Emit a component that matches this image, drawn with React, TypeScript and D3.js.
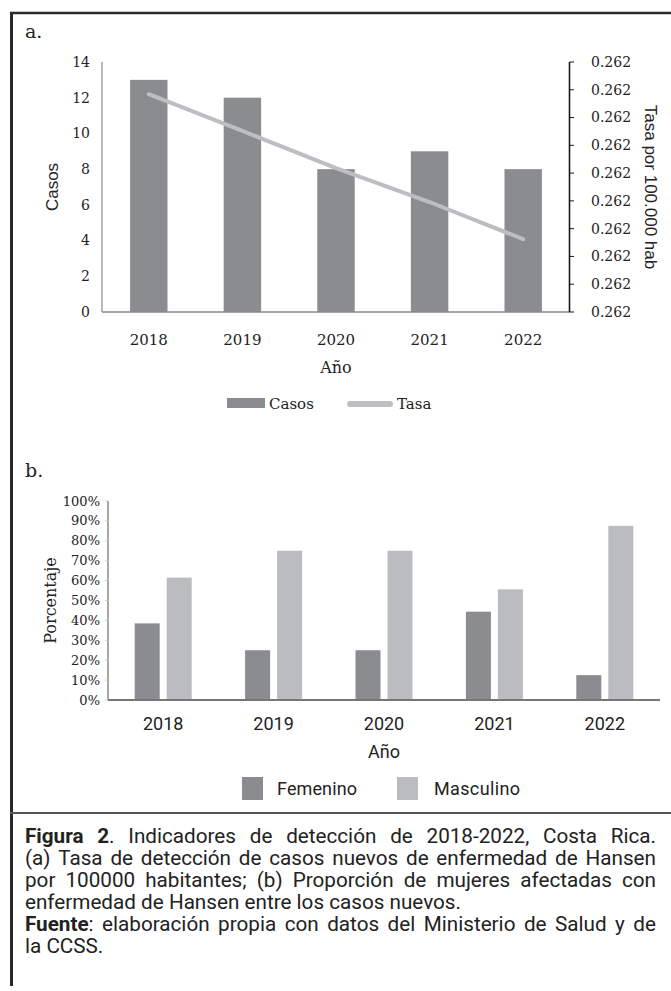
import React, { useLayoutEffect, useRef, useState } from "react";
import * as d3 from "d3";

const years = ["2018", "2019", "2020", "2021", "2022"];
const casos = [13, 12, 8, 9, 8];
const tasa = [0.262392, 0.262326, 0.262259, 0.262198, 0.262131];
const casosTicks = [0, 2, 4, 6, 8, 10, 12, 14];
const tasaTicks = [0.262, 0.26205, 0.2621, 0.26215, 0.2622, 0.26225, 0.2623, 0.26235, 0.2624, 0.26245];
const sexes = ["Femenino", "Masculino"];
const femenino = [38.5, 25, 25, 44.4, 12.5];
const masculino = [61.5, 75, 75, 55.6, 87.5];
const pctTicks = [0, 10, 20, 30, 40, 50, 60, 70, 80, 90, 100];

type Seg = { t: string; b?: boolean };
const captionLines: { words: Seg[][]; justify: boolean }[] = [
  {
    justify: true,
    words: [
      [{ t: "Figura", b: true }],
      [{ t: "2", b: true }, { t: "." }],
      ...["Indicadores", "de", "detección", "de", "2018-2022,", "Costa", "Rica."].map((w) => [{ t: w }]),
    ],
  },
  {
    justify: true,
    words: "(a) Tasa de detección de casos nuevos de enfermedad de Hansen".split(" ").map((w) => [{ t: w }]),
  },
  {
    justify: true,
    words: "por 100000 habitantes; (b) Proporción de mujeres afectadas con".split(" ").map((w) => [{ t: w }]),
  },
  {
    justify: false,
    words: "enfermedad de Hansen entre los casos nuevos.".split(" ").map((w) => [{ t: w }]),
  },
  {
    justify: true,
    words: [
      [{ t: "Fuente", b: true }, { t: ":" }],
      ..."elaboración propia con datos del Ministerio de Salud y de".split(" ").map((w) => [{ t: w }]),
    ],
  },
  { justify: false, words: "la CCSS.".split(" ").map((w) => [{ t: w }]) },
];

const SERIF = "'DejaVu Serif', serif";
const SANS = "'Liberation Sans', Arial, sans-serif";
const COND = "Roboto, sans-serif";
const DARK = "#8b8c8f";
const LIGHT = "#bbbcc0";
const TEXT = "#222";
const CAP_FS = 20;

export default function App() {
  const W = 671;
  const H = 991;

  // top chart scales
  const xA = d3.scaleBand<string>().domain(years).range([102, 570]);
  const yC = d3.scaleLinear().domain([0, 14]).range([312, 62]);
  const yT = d3.scaleLinear().domain([0.262, 0.26245]).range([312, 62]);
  const bwA = xA.bandwidth();
  const linePath = d3
    .line<number>()
    .x((_, i) => (xA(years[i]) as number) + bwA / 2)
    .y((d) => yT(d))(tasa) as string;

  // bottom chart scales
  const xB = d3.scaleBand<string>().domain(years).range([108, 660]);
  const xS = d3.scaleBand<string>().domain(sexes).range([-28.5, 28.5]).paddingInner(0.21875);
  const yP = d3.scaleLinear().domain([0, 100]).range([700, 501]);

  // caption measurement
  const wordRefs = useRef<Record<string, SVGTextElement | null>>({});
  const spRef = useRef<SVGTextElement | null>(null);
  const nnRef = useRef<SVGTextElement | null>(null);
  const [meas, setMeas] = useState<{ ws: number[][]; space: number } | null>(null);

  useLayoutEffect(() => {
    const ws = captionLines.map((ln, li) =>
      ln.words.map((_, wi) => wordRefs.current[`${li}-${wi}`]!.getComputedTextLength())
    );
    const space = spRef.current!.getComputedTextLength() - nnRef.current!.getComputedTextLength();
    setMeas({ ws, space });
  }, []);

  let caption: { sx: number; lines: { w: Seg[]; x: number }[][] } | null = null;
  if (meas) {
    const { ws, space } = meas;
    const refW = ws[3].reduce((a, b) => a + b, 0) + space * (ws[3].length - 1);
    const sx = 436 / refW;
    const full = 631 / sx;
    const lines = captionLines.map((ln, li) => {
      const sum = ws[li].reduce((a, b) => a + b, 0);
      const gap = ln.justify ? (full - sum) / (ln.words.length - 1) : space;
      let x = 0;
      return ln.words.map((w, i) => {
        const pos = x;
        x += ws[li][i] + gap;
        return { w, x: pos };
      });
    });
    caption = { sx, lines };
  }

  const capY = [843, 865, 887, 909, 931, 953];

  const renderWord = (w: Seg[]) =>
    w.map((s, si) => (
      <tspan key={si} fontWeight={s.b ? "bold" : "normal"}>
        {s.t}
      </tspan>
    ));

  return (
    <svg
      width={W}
      height={H}
      style={{ position: "absolute", left: 0, top: 0, background: "#fff" }}
      fontFamily={SERIF}
    >
      <rect x={0} y={0} width={W} height={H} fill="#fff" />
      {/* frame */}
      <line x1={10} x2={671} y1={13} y2={13} stroke="#2a2a2a" strokeWidth={2.5} />
      <line x1={11.5} x2={11.5} y1={12} y2={986} stroke="#2a2a2a" strokeWidth={3} />
      <line x1={10} x2={671} y1={813} y2={813} stroke="#555" strokeWidth={2} />

      {/* ---------- chart a ---------- */}
      <text x={25} y={38} fontSize={19} fill={TEXT}>a.</text>
      {years.map((y, i) => (
        <rect
          key={y}
          x={(xA(y) as number) + bwA * 0.3}
          y={yC(casos[i])}
          width={bwA * 0.4}
          height={yC(0) - yC(casos[i])}
          fill={DARK}
        />
      ))}
      <path d={linePath} fill="none" stroke="#bdbec1" strokeWidth={4} strokeLinecap="round" />
      {/* left axis */}
      <line x1={102} x2={102} y1={yC(14)} y2={yC(0)} stroke="#8a8a8a" strokeWidth={1.2} />
      {casosTicks.map((t) => (
        <text key={t} x={90} y={yC(t)} dy="0.35em" textAnchor="end" fontSize={14} fill={TEXT}>
          {t}
        </text>
      ))}
      <text
        transform={`translate(52,${(yC(0) + yC(14)) / 2}) rotate(-90)`}
        textAnchor="middle"
        dy="0.35em"
        fontSize={17}
        fontFamily={SANS}
        fill={TEXT}
      >
        Casos
      </text>
      {/* bottom axis */}
      <line x1={102} x2={570} y1={yC(0)} y2={yC(0)} stroke="#8a8a8a" strokeWidth={1.5} />
      {years.map((y) => (
        <text key={y} x={(xA(y) as number) + bwA / 2} y={345} textAnchor="middle" fontSize={15} fill={TEXT}>
          {y}
        </text>
      ))}
      <text x={336} y={373} textAnchor="middle" fontSize={16} fill={TEXT}>Año</text>
      {/* right axis */}
      <line x1={569.5} x2={569.5} y1={yT(0.26245)} y2={yT(0.262)} stroke="#1a1a1a" strokeWidth={1.6} />
      {tasaTicks.map((t) => (
        <g key={t}>
          <line x1={569.5} x2={574} y1={yT(t)} y2={yT(t)} stroke="#1a1a1a" strokeWidth={1} />
          <text x={591} y={yT(t)} dy="0.35em" fontSize={14} fill={TEXT}>
            {d3.format(".3f")(t)}
          </text>
        </g>
      ))}
      <text
        transform={`translate(651,${(yT(0.262) + yT(0.26245)) / 2}) rotate(90)`}
        textAnchor="middle"
        dy="0.35em"
        fontSize={17}
        fontFamily={SANS}
        fill={TEXT}
      >
        Tasa por 100.000 hab
      </text>
      {/* legend a */}
      <rect x={227} y={398} width={38} height={10} fill={DARK} />
      <text x={269} y={408.5} fontSize={15} fill={TEXT}>Casos</text>
      <line x1={350} x2={390} y1={404} y2={404} stroke="#bdbec1" strokeWidth={6} strokeLinecap="round" />
      <text x={397} y={408.5} fontSize={15} fill={TEXT}>Tasa</text>

      {/* ---------- chart b ---------- */}
      <text x={25} y={477} fontSize={19} fill={TEXT}>b.</text>
      {years.map((y, i) => {
        const c = (xB(y) as number) + xB.bandwidth() / 2;
        return (
          <g key={y}>
            <rect
              x={c + (xS("Femenino") as number)}
              y={yP(femenino[i])}
              width={xS.bandwidth()}
              height={yP(0) - yP(femenino[i])}
              fill={DARK}
            />
            <rect
              x={c + (xS("Masculino") as number)}
              y={yP(masculino[i])}
              width={xS.bandwidth()}
              height={yP(0) - yP(masculino[i])}
              fill={LIGHT}
            />
          </g>
        );
      })}
      <line x1={108} x2={108} y1={yP(100)} y2={yP(0)} stroke="#8a8a8a" strokeWidth={1.5} />
      {pctTicks.map((t) => (
        <g key={t}>
          <line x1={105} x2={108} y1={yP(t)} y2={yP(t)} stroke="#ccc" strokeWidth={1} />
          <text x={100} y={yP(t)} dy="0.35em" textAnchor="end" fontSize={13} fill={TEXT}>
            {t}%
          </text>
        </g>
      ))}
      <text
        transform={`translate(50,${(yP(0) + yP(100)) / 2}) rotate(-90)`}
        textAnchor="middle"
        dy="0.35em"
        fontSize={16}
        fill={TEXT}
      >
        Porcentaje
      </text>
      <line x1={108} x2={660} y1={yP(0)} y2={yP(0)} stroke="#777" strokeWidth={1.8} />
      {years.map((y) => (
        <text
          key={y}
          x={(xB(y) as number) + xB.bandwidth() / 2}
          y={730}
          textAnchor="middle"
          fontSize={18}
          fontFamily={COND}
          fill={TEXT}
        >
          {y}
        </text>
      ))}
      <text x={384} y={758} textAnchor="middle" fontSize={18} fontFamily={COND} fill={TEXT}>Año</text>
      {/* legend b */}
      <rect x={242} y={777} width={21} height={23} fill={DARK} />
      <text x={277} y={795} fontSize={18} fontFamily={COND} fill={TEXT} textLength={80} lengthAdjust="spacing">
        Femenino
      </text>
      <rect x={397} y={777} width={21} height={23} fill={LIGHT} />
      <text x={434} y={795} fontSize={18} fontFamily={COND} fill={TEXT} textLength={86} lengthAdjust="spacing">
        Masculino
      </text>

      {/* ---------- caption: hidden measuring texts ---------- */}
      <g visibility="hidden" fontFamily={COND} fontSize={CAP_FS}>
        {captionLines.map((ln, li) =>
          ln.words.map((w, wi) => (
            <text
              key={`m${li}-${wi}`}
              ref={(el) => {
                wordRefs.current[`${li}-${wi}`] = el;
              }}
              x={0}
              y={-50}
            >
              {renderWord(w)}
            </text>
          ))
        )}
        <text ref={spRef} x={0} y={-50} style={{ whiteSpace: "pre" }}>
          {"n n"}
        </text>
        <text ref={nnRef} x={0} y={-50}>
          {"nn"}
        </text>
      </g>

      {/* ---------- caption ---------- */}
      {caption && (
        <g transform={`translate(25,0) scale(${caption.sx},1)`} fontFamily={COND} fontSize={CAP_FS} fill={TEXT}>
          {caption.lines.map((ln, li) =>
            ln.map((wd, wi) => (
              <text key={`${li}-${wi}`} x={wd.x} y={capY[li]}>
                {renderWord(wd.w)}
              </text>
            ))
          )}
        </g>
      )}
    </svg>
  );
}
